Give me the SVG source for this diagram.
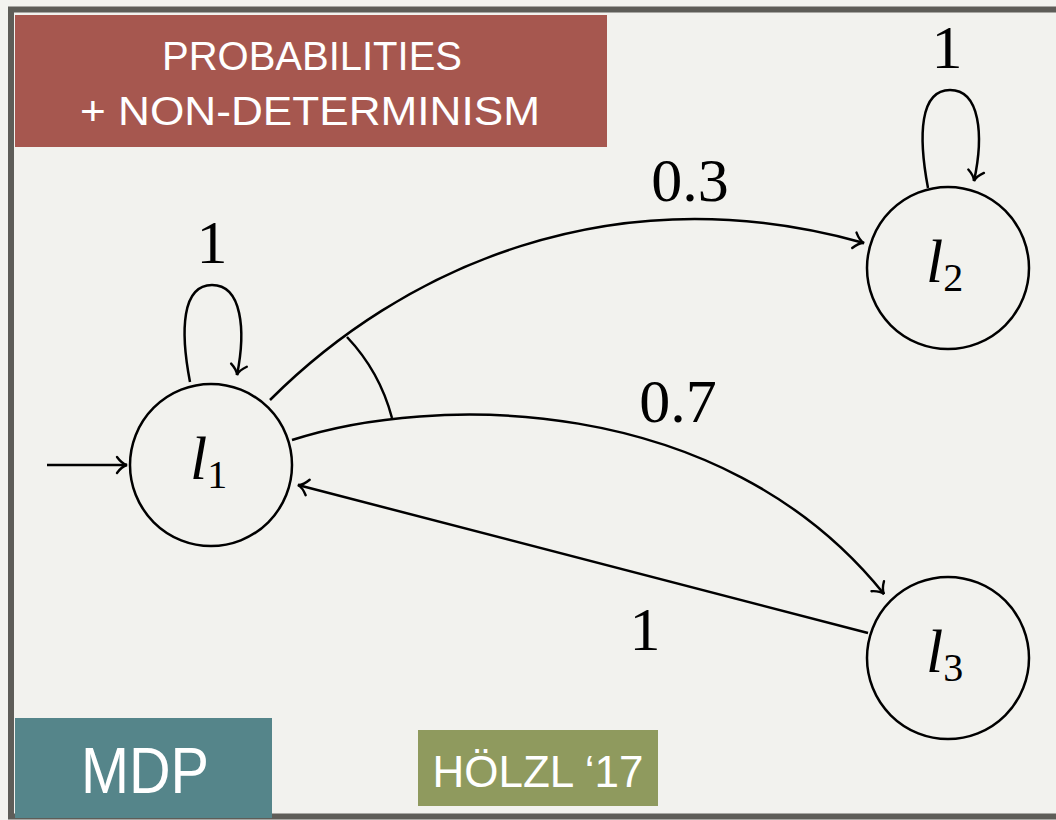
<svg xmlns="http://www.w3.org/2000/svg" width="1056" height="820" viewBox="0 0 1056 820">
<defs>
<marker id="to" markerUnits="userSpaceOnUse" markerWidth="24" markerHeight="24" viewBox="-12 -12 24 24" refX="0" refY="0" orient="auto" overflow="visible">
<path d="M -10 -8 C -6 -2.5 -2.5 -0.6 0 0 C -2.5 0.6 -6 2.5 -10 8" fill="none" stroke="#000" stroke-width="2.4" stroke-linecap="round"/>
</marker>
<style>
.edge{fill:none;stroke:#000;stroke-width:2.5}
.node{fill:none;stroke:#000;stroke-width:2.5}
.math{font-family:"Liberation Serif","DejaVu Serif",serif;font-size:62px;fill:#000}
.var{font-family:"Liberation Serif","DejaVu Serif",serif;font-size:62px;font-style:italic;fill:#000}
.sub{font-family:"Liberation Serif","DejaVu Serif",serif;font-size:40px;font-style:normal}
.tag{font-family:"Liberation Sans","DejaVu Sans",sans-serif;fill:#fff}
</style>
</defs>
<rect x="0" y="0" width="1056" height="820" fill="#f3f3ef"/>
<rect x="11" y="9.5" width="1100" height="807" fill="#f2f2ee" stroke="#5e5d58" stroke-width="6"/>

<g id="title">
<rect x="15" y="15" width="592" height="132" fill="#a6574f"/>
<text class="tag" x="312" y="70" font-size="40" text-anchor="middle" textLength="300" lengthAdjust="spacingAndGlyphs">PROBABILITIES</text>
<text class="tag" x="310" y="125" font-size="40" text-anchor="middle" textLength="460" lengthAdjust="spacingAndGlyphs">+ NON-DETERMINISM</text>
</g>
<g id="mdp-tag">
<rect x="15" y="718" width="257" height="100" fill="#55858a"/>
<text class="tag" x="145" y="793" font-size="64" text-anchor="middle" textLength="128" lengthAdjust="spacingAndGlyphs">MDP</text>
</g>
<g id="author-tag">
<rect x="418" y="730" width="240" height="76" fill="#8f9a5e"/>
<text class="tag" x="538" y="787" font-size="44" text-anchor="middle" textLength="211" lengthAdjust="spacingAndGlyphs">HÖLZL ‘17</text>
</g>

<g id="connectors">
<line class="edge" x1="47" y1="465" x2="127" y2="465" marker-end="url(#to)"/>
<path class="edge" d="M 190 382 C 180 330 182 285 212 285 C 242 285 246 330 237 375" marker-end="url(#to)"/>
<path class="edge" d="M 928 188 C 918 135 920 90 950 90 C 980 90 984 135 974 181" marker-end="url(#to)"/>
<path class="edge" d="M 270 400 C 400 270 610 172 864 243" marker-end="url(#to)"/>
<path class="edge" d="M 292 440 C 430 395 720 390 884 594" marker-end="url(#to)"/>
<path class="edge" d="M 347 337 A 187 187 0 0 1 392 418"/>
<line class="edge" x1="868" y1="633" x2="298" y2="485" marker-end="url(#to)"/>
<text class="math" x="212" y="263" text-anchor="middle">1</text>
<text class="math" x="690" y="201" text-anchor="middle">0.3</text>
<text class="math" x="947" y="68" text-anchor="middle">1</text>
<text class="math" x="678" y="422" text-anchor="middle">0.7</text>
<text class="math" x="645" y="650" text-anchor="middle">1</text>
</g>

<g id="l1">
<circle class="node" cx="211" cy="465" r="81"/>
<text class="var" x="190" y="479">l<tspan class="sub" dy="9">1</tspan></text>
</g>
<g id="l2">
<circle class="node" cx="948" cy="268" r="81"/>
<text class="var" x="926" y="282">l<tspan class="sub" dy="9">2</tspan></text>
</g>
<g id="l3">
<circle class="node" cx="948" cy="658" r="81"/>
<text class="var" x="926" y="672">l<tspan class="sub" dy="9">3</tspan></text>
</g>
</svg>
